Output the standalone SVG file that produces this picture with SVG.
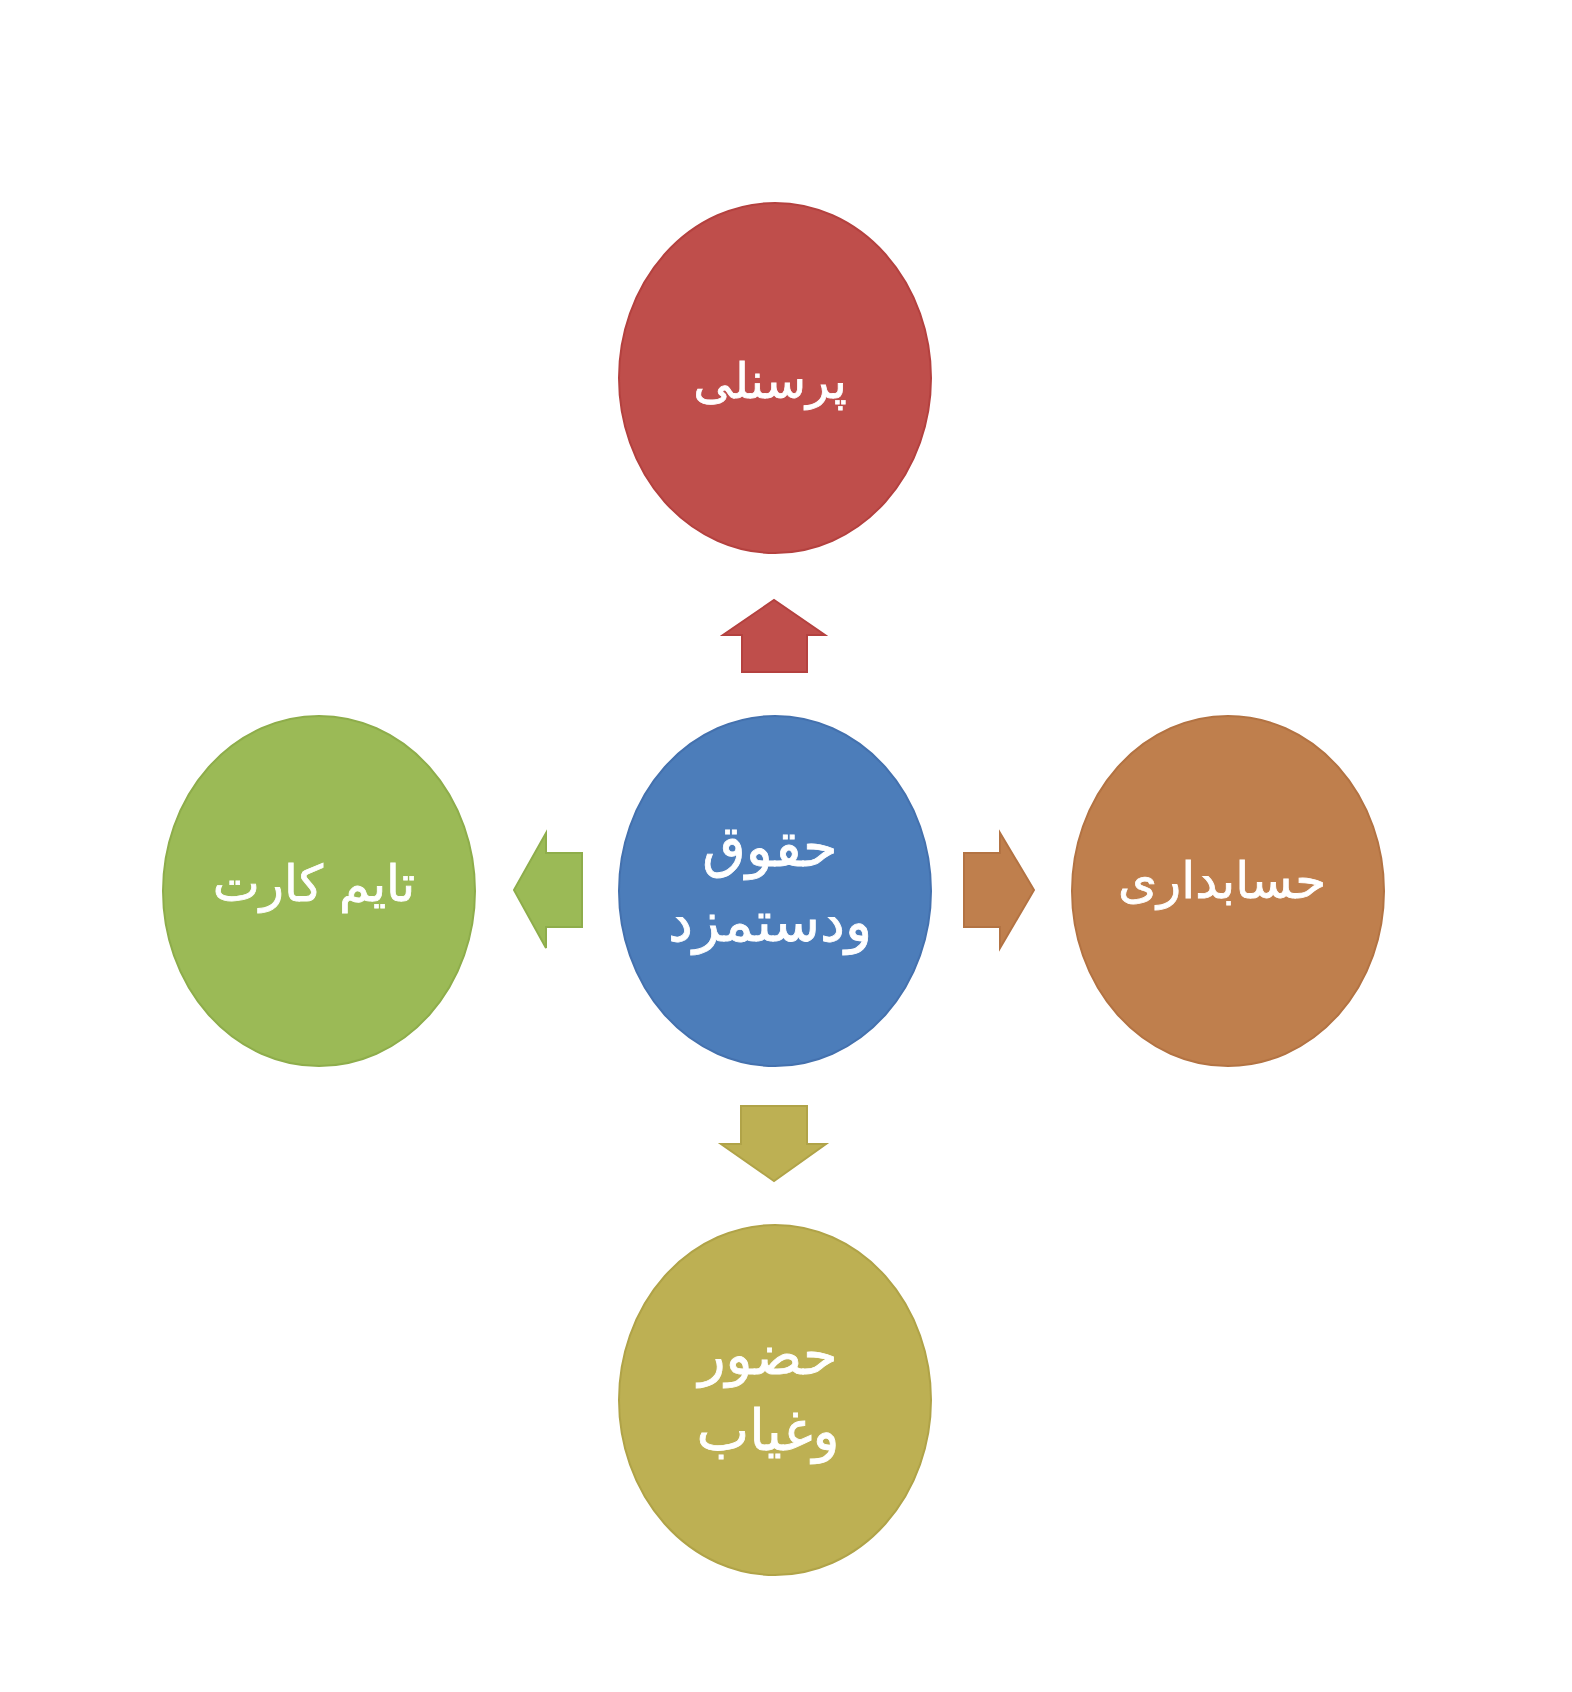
<svg xmlns="http://www.w3.org/2000/svg" width="1572" height="1692" viewBox="0 0 1572 1692">
<style>
.lbl{font-family:"DejaVu Sans","Noto Sans",sans-serif;font-size:50px;fill:#ffffff;stroke:#ffffff;stroke-width:0.8;text-anchor:middle}
.big{font-size:56px}
.red{fill:#BF4E4B;stroke:#B4413F;stroke-width:2}
.blue{fill:#4C7DBA;stroke:#4471AE;stroke-width:2}
.green{fill:#9BBA56;stroke:#8EAD4B;stroke-width:2}
.orange{fill:#BF7F4D;stroke:#B37343;stroke-width:2}
.olive{fill:#BDB053;stroke:#B0A348;stroke-width:2}
</style>
<rect width="1572" height="1692" fill="#ffffff"/>
<g id="connectors">
<path class="red" d="M742,672 L742,635 L723,635 L774,600 L825,635 L807,635 L807,672 Z"/>
<path class="orange" d="M964,853 L1000,853 L1000,833 L1034,890 L1000,948 L1000,927 L964,927 Z"/>
<path class="green" d="M582,853 L546,853 L546,833 L514,890 L546,948 L546,927 L582,927 Z"/>
<path class="olive" d="M741,1106 L807,1106 L807,1144 L826,1144 L774,1181 L721,1144 L741,1144 Z"/>
</g>
<g id="node-top">
<ellipse class="red" cx="775" cy="378" rx="156" ry="175"/>
<text class="lbl" x="770" y="398" style="font-size:49px">پرسنلی</text>
</g>
<g id="node-center">
<ellipse class="blue" cx="775" cy="891" rx="156" ry="175"/>
<text class="lbl big" x="770" y="866">حقوق</text>
<text class="lbl big" x="770" y="941">ودستمزد</text>
</g>
<g id="node-left">
<ellipse class="green" cx="319" cy="891" rx="156" ry="175"/>
<text class="lbl" x="314" y="901">تایم کارت</text>
</g>
<g id="node-right">
<ellipse class="orange" cx="1228" cy="891" rx="156" ry="175"/>
<text class="lbl" x="1222" y="898">حسابداری</text>
</g>
<g id="node-bottom">
<ellipse class="olive" cx="775" cy="1400" rx="156" ry="175"/>
<text class="lbl big" x="768" y="1374">حضور</text>
<text class="lbl big" x="768" y="1450">وغیاب</text>
</g>
</svg>
